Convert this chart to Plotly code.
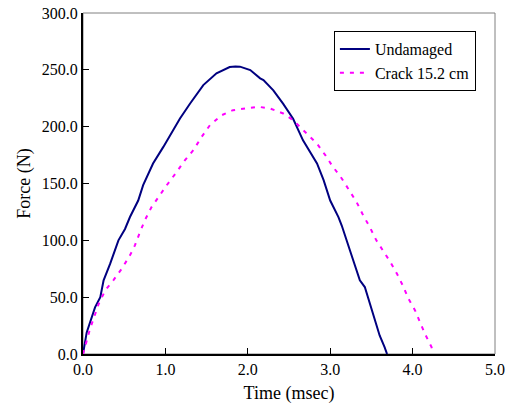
import plotly.graph_objects as go

# Undamaged series (time in msec, force in N)
t_undamaged = [0.0, 0.01, 0.045, 0.146, 0.21, 0.25, 0.33, 0.43, 0.51, 0.57, 0.67, 0.73, 0.85, 0.975,
               1.056, 1.177, 1.30, 1.46, 1.62, 1.78, 1.85, 1.905, 2.03, 2.15, 2.19, 2.31, 2.43, 2.55,
               2.67, 2.84, 2.92, 3.0, 3.10, 3.14, 3.24, 3.36, 3.42, 3.56, 3.60, 3.66, 3.69]
f_undamaged = [0.0, 5.0, 19.0, 41.0, 50.0, 64.8, 79.5, 100.0, 110.0, 120.5, 135.0, 148.5, 167.6, 182.2,
               192.5, 207.2, 220.4, 236.6, 246.9, 252.5, 253.0, 252.8, 249.8, 242.5, 241.0, 232.0, 220.0, 207.0,
               188.0, 167.6, 152.9, 135.0, 120.5, 113.0, 91.0, 64.8, 58.9, 26.6, 16.3, 6.0, 0.0]

# Crack 15.2 cm series
t_crack = [0.0, 0.045, 0.085, 0.19, 0.27, 0.37, 0.47, 0.57, 0.63, 0.69, 0.75, 0.83, 0.914, 1.016,
           1.137, 1.238, 1.339, 1.44, 1.54, 1.68, 1.82, 1.99, 2.13, 2.27, 2.43, 2.55, 2.67, 2.84,
           2.94, 3.02, 3.14, 3.24, 3.32, 3.40, 3.48, 3.56, 3.64, 3.73, 3.81, 3.88, 3.95, 4.03,
           4.09, 4.15, 4.23, 4.25]
f_crack = [0.0, 12.0, 22.0, 44.0, 56.0, 65.0, 75.0, 86.8, 95.6, 107.0, 117.6, 129.0, 138.2, 148.5,
           160.2, 170.5, 179.3, 191.0, 201.3, 210.0, 214.5, 216.0, 217.5, 216.0, 211.6, 205.7, 196.9, 185.0,
           175.0, 166.0, 154.4, 142.6, 133.7, 122.0, 111.7, 100.0, 91.0, 80.9, 70.7, 60.4, 48.6, 38.3,
           28.0, 17.8, 6.0, 0.0]

x_ticks = [0.0, 1.0, 2.0, 3.0, 4.0, 5.0]
y_ticks = [0.0, 50.0, 100.0, 150.0, 200.0, 250.0, 300.0]

font_family = "Liberation Serif, Times New Roman, serif"

fig = go.Figure()
fig.add_trace(go.Scatter(x=t_undamaged, y=f_undamaged, mode="lines", name="Undamaged",
                         line=dict(color="#000080", width=2)))
fig.add_trace(go.Scatter(x=t_crack, y=f_crack, mode="lines", name="Crack 15.2 cm",
                         line=dict(color="#FF00FF", width=2, dash="4px,6px")))

fig.update_layout(
    width=508, height=414,
    margin=dict(l=83, r=13, t=13, b=60, autoexpand=False),
    paper_bgcolor="white", plot_bgcolor="white",
    font=dict(family=font_family, size=16, color="black"),
    showlegend=True,
    legend=dict(x=0.609, y=0.947, xanchor="left", yanchor="top",
                bgcolor="white", bordercolor="black", borderwidth=1,
                font=dict(family=font_family, size=16, color="black"),
                tracegroupgap=0, itemwidth=30),
    shapes=[dict(type="rect", xref="paper", yref="paper", x0=0, y0=0, x1=1, y1=1,
                 line=dict(color="#808080", width=1), layer="below")],
)
fig.update_xaxes(range=[0, 5], tickvals=x_ticks, ticktext=[f"{v:.1f}" for v in x_ticks],
                 ticks="inside", ticklen=6, tickwidth=1, tickcolor="black", automargin=False,
                 ticklabeloverflow="allow",
                 showline=True, linecolor="black", linewidth=2, showgrid=False, zeroline=False,
                 title=dict(text="Time (msec)", font=dict(family=font_family, size=18), standoff=9),
                 tickfont=dict(family=font_family, size=16))
fig.update_yaxes(range=[0, 300], tickvals=y_ticks, ticktext=[f"{v:.1f}" for v in y_ticks],
                 ticks="inside", ticklen=6, tickwidth=1, tickcolor="black", automargin=False,
                 ticklabeloverflow="allow",
                 showline=True, linecolor="black", linewidth=2, showgrid=False, zeroline=False,
                 title=dict(text="Force (N)", font=dict(family=font_family, size=18), standoff=6),
                 tickfont=dict(family=font_family, size=16))

# Remove the browser's default 8px body margin so the 508x414 figure fills the window.
fig.write_html("out.html",
               config={"displayModeBar": False},
               post_script="document.body.style.margin='0';document.body.style.overflow='hidden';")
